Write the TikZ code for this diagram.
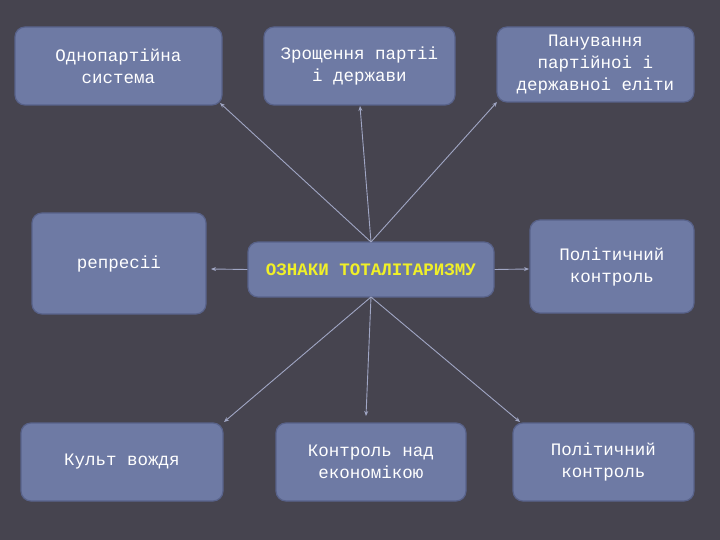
\documentclass[tikz,border=0pt]{standalone}
\usepackage{fontspec}
\setmainfont{Liberation Mono}
\usetikzlibrary{arrows.meta}
\definecolor{bgc}{RGB}{70,68,79}
\definecolor{boxc}{RGB}{110,122,164}
\definecolor{boxd}{RGB}{88,98,138}
\definecolor{linec}{RGB}{160,166,196}
\definecolor{titc}{RGB}{240,240,40}
\tikzset{
  card/.style={draw=boxd, line width=1.2pt, fill=boxc, rounded corners=10pt, text=white,
    align=center, font=\fontsize{17.5}{22}\selectfont, inner sep=0pt},
  conn/.style={draw=linec, line width=0.9pt, -{Stealth[length=5pt,width=4pt]}}
}
\begin{document}
\begin{tikzpicture}[x=1pt,y=-1pt]
\fill[bgc] (0,0) rectangle (720,540);
\useasboundingbox (0,0) rectangle (720,540);
% boxes
\node[card, minimum width=207pt, minimum height=78pt] (b1) at (118.5,66) {Однопартійна\\система};
\node[card, minimum width=191pt, minimum height=78pt] (b2) at (359.5,66) {Зрощення партіі\\і держави};
\node[card, minimum width=197pt, minimum height=75pt] (b3) at (595.5,64.5) {Панування\\партійноі і\\державноі еліти};
\node[card, minimum width=174pt, minimum height=101pt] (b4) at (119,263.5) {репресіі};
\node[card, minimum width=246pt, minimum height=55pt, text=titc, font=\fontsize{17.5}{22}\selectfont\bfseries] (c) at (371,269.5) {ОЗНАКИ ТОТАЛІТАРИЗМУ};
\node[card, minimum width=164pt, minimum height=93pt] (b6) at (612,266.5) {Політичний\\контроль};
\node[card, minimum width=202pt, minimum height=78pt] (b7) at (122,462) {Культ вождя};
\node[card, minimum width=190pt, minimum height=78pt] (b8) at (371,462) {Контроль над\\економікою};
\node[card, minimum width=181pt, minimum height=78pt] (b9) at (603.5,462) {Політичний\\контроль};
% connectors
\coordinate (ct) at (371,242);
\coordinate (cb) at (371,297);
\draw[conn] (ct) -- (220,103);
\draw[conn] (ct) -- (360,106);
\draw[conn] (ct) -- (497,102);
\draw[conn] (c.west) -- (211,269);
\draw[conn] (c.east) -- (529,269);
\draw[conn] (cb) -- (224,422);
\draw[conn] (cb) -- (366,416);
\draw[conn] (cb) -- (520,422);
\end{tikzpicture}
\end{document}
